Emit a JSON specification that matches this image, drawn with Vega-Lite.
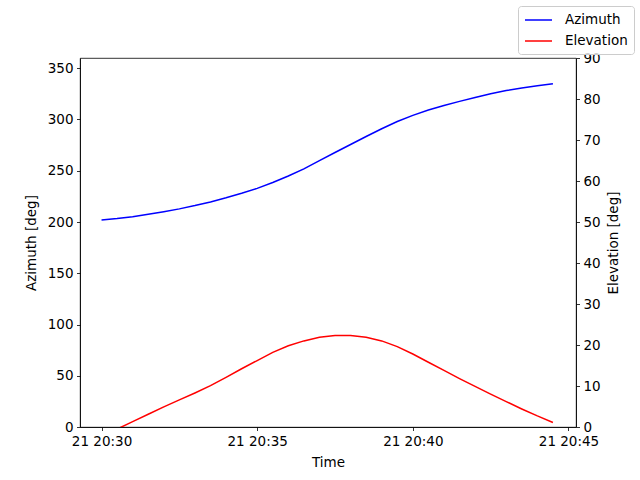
{
  "$schema": "https://vega.github.io/schema/vega-lite/v6.json",
  "width": 496,
  "height": 369,
  "autosize": {"type": "none"},
  "padding": {"left": 80, "top": 58, "right": 64, "bottom": 53},
  "background": "white",
  "data": {
    "values": [
      {"time": "2024-01-21T20:30:00", "azimuth": 202.0, "elevation": -2.2},
      {"time": "2024-01-21T20:30:30", "azimuth": 203.4, "elevation": -0.5},
      {"time": "2024-01-21T20:31:00", "azimuth": 205.2, "elevation": 1.3},
      {"time": "2024-01-21T20:31:30", "azimuth": 207.5, "elevation": 3.1},
      {"time": "2024-01-21T20:32:00", "azimuth": 210.0, "elevation": 4.9},
      {"time": "2024-01-21T20:32:30", "azimuth": 212.8, "elevation": 6.6},
      {"time": "2024-01-21T20:33:00", "azimuth": 216.0, "elevation": 8.3},
      {"time": "2024-01-21T20:33:30", "azimuth": 219.6, "elevation": 10.1},
      {"time": "2024-01-21T20:34:00", "azimuth": 223.6, "elevation": 12.1},
      {"time": "2024-01-21T20:34:30", "azimuth": 228.0, "elevation": 14.2},
      {"time": "2024-01-21T20:35:00", "azimuth": 232.8, "elevation": 16.2},
      {"time": "2024-01-21T20:35:30", "azimuth": 238.5, "elevation": 18.2},
      {"time": "2024-01-21T20:36:00", "azimuth": 244.9, "elevation": 19.8},
      {"time": "2024-01-21T20:36:30", "azimuth": 251.8, "elevation": 21.0},
      {"time": "2024-01-21T20:37:00", "azimuth": 259.9, "elevation": 21.9},
      {"time": "2024-01-21T20:37:30", "azimuth": 267.8, "elevation": 22.3},
      {"time": "2024-01-21T20:38:00", "azimuth": 275.6, "elevation": 22.3},
      {"time": "2024-01-21T20:38:30", "azimuth": 283.4, "elevation": 21.9},
      {"time": "2024-01-21T20:39:00", "azimuth": 291.0, "elevation": 21.0},
      {"time": "2024-01-21T20:39:30", "azimuth": 298.0, "elevation": 19.6},
      {"time": "2024-01-21T20:40:00", "azimuth": 304.0, "elevation": 17.8},
      {"time": "2024-01-21T20:40:30", "azimuth": 309.3, "elevation": 15.8},
      {"time": "2024-01-21T20:41:00", "azimuth": 313.7, "elevation": 13.8},
      {"time": "2024-01-21T20:41:30", "azimuth": 317.7, "elevation": 11.8},
      {"time": "2024-01-21T20:42:00", "azimuth": 321.5, "elevation": 9.9},
      {"time": "2024-01-21T20:42:30", "azimuth": 325.2, "elevation": 8.0},
      {"time": "2024-01-21T20:43:00", "azimuth": 328.2, "elevation": 6.2},
      {"time": "2024-01-21T20:43:30", "azimuth": 330.8, "elevation": 4.4},
      {"time": "2024-01-21T20:44:00", "azimuth": 333.0, "elevation": 2.7},
      {"time": "2024-01-21T20:44:30", "azimuth": 334.9, "elevation": 1.1}
    ]
  },
  "encoding": {
    "x": {
      "field": "time",
      "type": "temporal",
      "title": "Time",
      "scale": {
        "domain": [
          {"year": 2024, "month": 1, "date": 21, "hours": 20, "minutes": 29, "seconds": 18, "milliseconds": 500},
          {"year": 2024, "month": 1, "date": 21, "hours": 20, "minutes": 45, "seconds": 14, "milliseconds": 500}
        ],
        "nice": false
      },
      "axis": {
        "values": [
          {"year": 2024, "month": 1, "date": 21, "hours": 20, "minutes": 30},
          {"year": 2024, "month": 1, "date": 21, "hours": 20, "minutes": 35},
          {"year": 2024, "month": 1, "date": 21, "hours": 20, "minutes": 40},
          {"year": 2024, "month": 1, "date": 21, "hours": 20, "minutes": 45}
        ],
        "format": "%d %H:%M",
        "labelFlush": false,
        "labelOverlap": false,
        "titlePadding": 8
      }
    }
  },
  "layer": [
    {
      "mark": {"type": "line", "clip": true, "strokeWidth": 1.5},
      "encoding": {
        "y": {
          "field": "azimuth",
          "type": "quantitative",
          "scale": {"domain": [0, 360], "nice": false, "zero": false},
          "axis": {
            "title": "Azimuth [deg]",
            "orient": "left",
            "values": [0, 50, 100, 150, 200, 250, 300, 350],
            "titlePadding": 9
          }
        },
        "color": {
          "datum": "Azimuth",
          "type": "nominal",
          "scale": {"domain": ["Azimuth", "Elevation"], "range": ["#0000ff", "#ff0000"]},
          "legend": {
            "orient": "none",
            "legendX": 438,
            "legendY": -52,
            "title": null,
            "symbolType": "M-1,0H2.86",
            "symbolSize": 196,
            "symbolStrokeWidth": 1.5,
            "labelFontSize": 13.5,
            "labelFont": "DejaVu Sans",
            "labelColor": "#000000",
            "labelOffset": 25,
            "padding": 6,
            "rowPadding": 6,
            "strokeColor": "#cccccc",
            "fillColor": "rgba(255,255,255,0.8)",
            "cornerRadius": 3
          }
        }
      }
    },
    {
      "mark": {"type": "line", "clip": true, "strokeWidth": 1.5},
      "encoding": {
        "y": {
          "field": "elevation",
          "type": "quantitative",
          "scale": {"domain": [0, 90], "nice": false, "zero": false},
          "axis": {
            "title": "Elevation [deg]",
            "orient": "right",
            "values": [0, 10, 20, 30, 40, 50, 60, 70, 80, 90],
            "titleAngle": 270,
            "titleBaseline": "top",
            "titlePadding": 6
          }
        },
        "color": {"datum": "Elevation", "type": "nominal"}
      }
    }
  ],
  "resolve": {"scale": {"y": "independent"}},
  "config": {
    "font": "DejaVu Sans",
    "view": {"stroke": "#000000", "strokeWidth": 0.8},
    "axis": {
      "grid": false,
      "domainColor": "#000000",
      "domainWidth": 0.8,
      "tickColor": "#000000",
      "tickWidth": 0.8,
      "tickSize": 3.5,
      "labelPadding": 3.5,
      "labelFontSize": 13.5,
      "labelFont": "DejaVu Sans",
      "labelColor": "#000000",
      "titleFontSize": 13.5,
      "titleFont": "DejaVu Sans",
      "titleFontWeight": "normal",
      "titleColor": "#000000"
    }
  }
}
